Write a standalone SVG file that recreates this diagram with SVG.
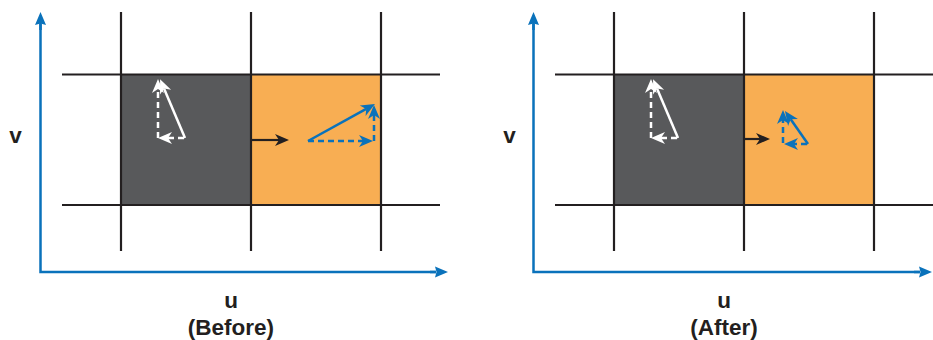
<svg xmlns="http://www.w3.org/2000/svg" width="933" height="340" viewBox="0 0 933 340">
<style>
.grid{stroke:#231f20;stroke-width:2.2;fill:none}
.axis{stroke:#0a72bb;stroke-width:2.5;fill:none}
.w{stroke:#ffffff;stroke-width:2.5;fill:none}
.b{stroke:#0a72bb;stroke-width:2.5;fill:none}
.k{stroke:#231f20;stroke-width:2.2;fill:none}
.d{stroke-dasharray:6 4}
.lbl{font-family:"Liberation Sans",Arial,sans-serif;font-weight:bold;font-size:22.5px;fill:#231f20;text-anchor:middle}
</style>
<defs>
<marker id="aw" markerUnits="userSpaceOnUse" markerWidth="14" markerHeight="12" refX="4" refY="6" orient="auto" overflow="visible"><path d="M0,0 L14,6 L0,12 L4,6 z" fill="#ffffff"/></marker>
<marker id="ab" markerUnits="userSpaceOnUse" markerWidth="14" markerHeight="12" refX="4" refY="6" orient="auto" overflow="visible"><path d="M0,0 L14,6 L0,12 L4,6 z" fill="#0a72bb"/></marker>
<marker id="ak" markerUnits="userSpaceOnUse" markerWidth="14" markerHeight="12" refX="4" refY="6" orient="auto" overflow="visible"><path d="M0,0 L14,6 L0,12 L4,6 z" fill="#231f20"/></marker>
<marker id="ax" markerUnits="userSpaceOnUse" markerWidth="13" markerHeight="11" refX="1" refY="5.5" orient="auto" overflow="visible"><path d="M0,0 L13,5.5 L0,11 L1.5,5.5 z" fill="#0a72bb"/></marker>
</defs>

<g id="panel-before">
  <g id="cell-dark-before"><rect x="121" y="74.5" width="130" height="130.5" fill="#58595b"/></g>
  <g id="cell-orange-before"><rect x="251" y="74.5" width="130" height="130.5" fill="#f8ae53"/></g>
  <g id="grid-before" class="grid">
    <line x1="62" y1="74.5" x2="440" y2="74.5"/>
    <line x1="62" y1="205" x2="440" y2="205"/>
    <line x1="121" y1="12" x2="121" y2="251"/>
    <line x1="251" y1="12" x2="251" y2="251"/>
    <line x1="381" y1="12" x2="381" y2="251"/>
  </g>
  <g id="axes-before">
    <polyline class="axis" points="40.5,22 40.5,272 436,272" />
    <line class="axis" x1="40.5" y1="30" x2="40.5" y2="24" marker-end="url(#ax)"/>
    <line class="axis" x1="430" y1="272" x2="436" y2="272" marker-end="url(#ax)"/>
  </g>
  <g id="labels-before">
    <text class="lbl" x="15.5" y="143">v</text>
    <text class="lbl" x="231" y="308">u</text>
    <text class="lbl" x="231" y="335">(Before)</text>
  </g>
</g>

<g id="panel-after">
  <g id="cell-dark-after"><rect x="614" y="74.5" width="130" height="130.5" fill="#58595b"/></g>
  <g id="cell-orange-after"><rect x="744" y="74.5" width="130" height="130.5" fill="#f8ae53"/></g>
  <g id="grid-after" class="grid">
    <line x1="555" y1="74.5" x2="933" y2="74.5"/>
    <line x1="555" y1="205" x2="933" y2="205"/>
    <line x1="614" y1="12" x2="614" y2="251"/>
    <line x1="744" y1="12" x2="744" y2="251"/>
    <line x1="874" y1="12" x2="874" y2="251"/>
  </g>
  <g id="axes-after">
    <polyline class="axis" points="533.5,22 533.5,272 920,272" />
    <line class="axis" x1="533.5" y1="30" x2="533.5" y2="24" marker-end="url(#ax)"/>
    <line class="axis" x1="914" y1="272" x2="920" y2="272" marker-end="url(#ax)"/>
  </g>
  <g id="labels-after">
    <text class="lbl" x="509.5" y="143">v</text>
    <text class="lbl" x="724" y="308">u</text>
    <text class="lbl" x="724" y="335">(After)</text>
  </g>
</g>

<g id="connectors">
  <line class="w" x1="185" y1="138" x2="164" y2="88.5" marker-end="url(#aw)"/>
  <line class="w d" x1="158" y1="138" x2="158" y2="89" marker-end="url(#aw)"/>
  <line class="w d" x1="184" y1="138" x2="168" y2="138" marker-end="url(#aw)"/>
  <line class="k" x1="251" y1="140" x2="279" y2="140" marker-end="url(#ak)"/>
  <line class="b" x1="308" y1="141" x2="366.2" y2="108.9" marker-end="url(#ab)"/>
  <line class="b d" x1="308" y1="141" x2="363" y2="141" marker-end="url(#ab)"/>
  <line class="b d" x1="374" y1="141" x2="374" y2="115" marker-end="url(#ab)"/>
  <line class="w" x1="678" y1="138" x2="657" y2="88.5" marker-end="url(#aw)"/>
  <line class="w d" x1="651" y1="138" x2="651" y2="89" marker-end="url(#aw)"/>
  <line class="w d" x1="677" y1="138" x2="661" y2="138" marker-end="url(#aw)"/>
  <line class="k" x1="744" y1="139" x2="760" y2="139" marker-end="url(#ak)"/>
  <line class="b d" x1="783" y1="143" x2="783" y2="120" marker-end="url(#ab)"/>
  <line class="b" x1="808" y1="144" x2="790.7" y2="119.2" marker-end="url(#ab)"/>
  <line class="b d" x1="807" y1="144" x2="794" y2="144" marker-end="url(#ab)"/>
</g>
</svg>
